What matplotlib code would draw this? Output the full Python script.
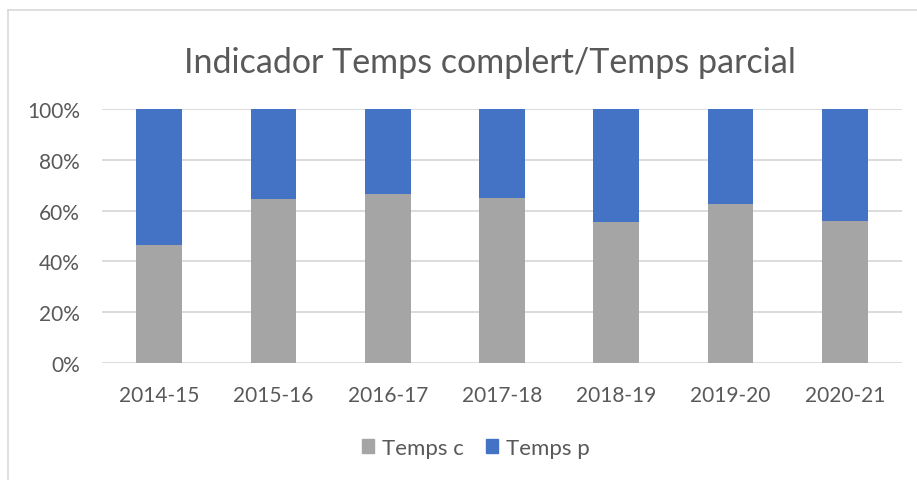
import matplotlib.pyplot as plt
import numpy as np
from matplotlib.lines import Line2D
from matplotlib.patches import Patch

plt.rcParams['font.family'] = ['Lato', 'DejaVu Sans']

# data (share of full-time, part-time fills to 100%)
years = ["2014-15", "2015-16", "2016-17", "2017-18", "2018-19", "2019-20", "2020-21"]
temps_c = [46.6, 64.6, 66.6, 65.0, 55.7, 62.6, 56.1]
temps_p = [100 - v for v in temps_c]

GRAY = "#A5A5A5"
BLUE = "#4472C4"
TXT = "#595959"
GRID = "#D9D9D9"

fig = plt.figure(figsize=(9.17, 4.81), dpi=100)
ax = fig.add_axes([102/917, 1 - 364/481, 800/917, 254/481])

x = np.arange(len(years))
ax.bar(x, temps_c, width=0.4, color=GRAY, zorder=3)
ax.bar(x, temps_p, width=0.4, bottom=temps_c, color=BLUE, zorder=3)

ax.set_xlim(-0.5, len(years) - 0.5)
ax.set_ylim(0, 100)
ax.set_yticks(range(0, 101, 20))
ax.set_yticklabels(["{}%".format(v) for v in range(0, 101, 20)])
ax.set_xticks(x)
ax.set_xticklabels(years)
ax.yaxis.grid(True, color=GRID, linewidth=1.3, zorder=0)
ax.tick_params(axis='both', length=0, labelsize=15, colors=TXT)
ax.tick_params(axis='x', pad=16)
ax.tick_params(axis='y', pad=16)
for s in ax.spines.values():
    s.set_visible(False)

fig.text(490/917, 1 - 63/481, "Indicador Temps complert/Temps parcial",
         ha='center', va='center', fontsize=24.5, color=TXT)

handles = [Patch(color=GRAY, label="Temps c"), Patch(color=BLUE, label="Temps p")]
fig.legend(handles=handles, loc='center', bbox_to_anchor=(476/917, 1 - 449/481),
           ncol=2, frameon=False, fontsize=16, handlelength=0.55, handleheight=0.55,
           handletextpad=0.35, columnspacing=1.0, labelcolor=TXT)

# chart outer border (partly visible)
fig.add_artist(Line2D([8/917, 8/917], [0, 1 - 11/481], color=GRID, linewidth=1.2))
fig.add_artist(Line2D([8/917, 1], [1 - 11/481, 1 - 11/481], color=GRID, linewidth=1.2))

fig.savefig("out.png", dpi=100)
